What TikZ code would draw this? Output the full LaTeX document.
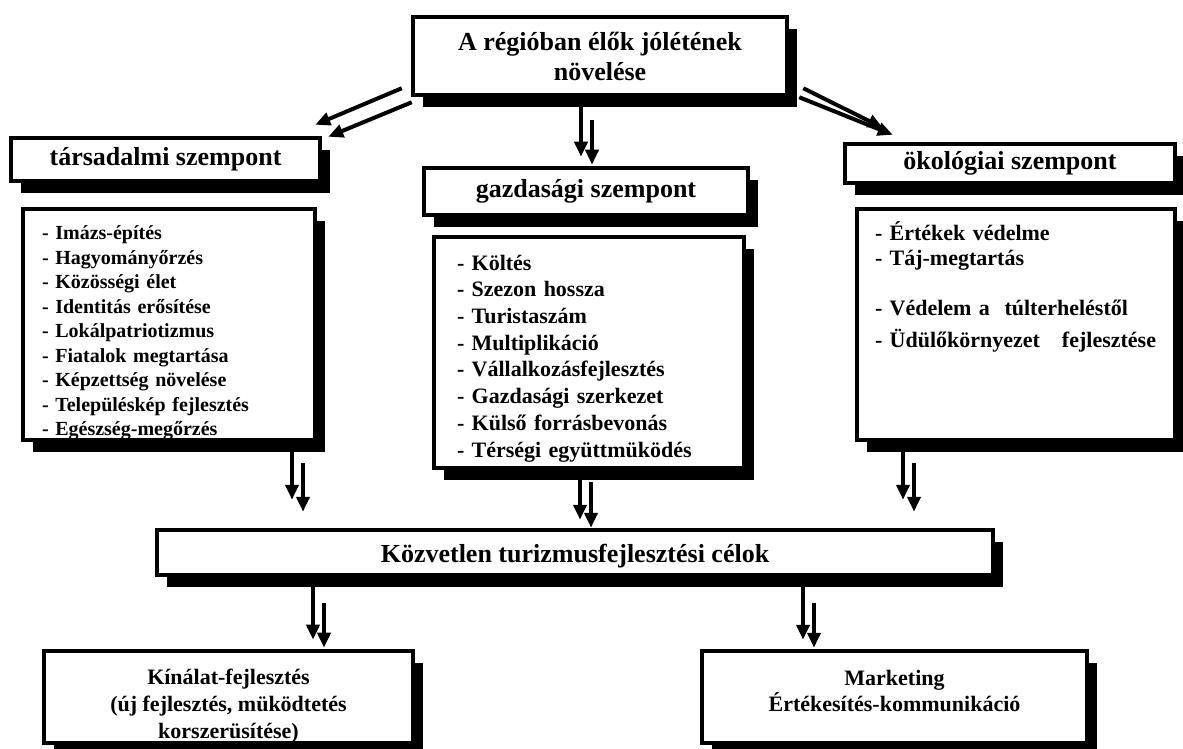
\documentclass[tikz,border=0pt]{standalone}
\usepackage{fontspec}
\setmainfont{Liberation Serif}
\usetikzlibrary{arrows.meta,shadows}

\tikzset{
  box/.style={draw, line width=4.5pt, fill=white, inner sep=0pt, align=center,
    font=\bfseries\fontsize{26}{30}\selectfont,
    drop shadow={shadow xshift=10pt, shadow yshift=-12pt, fill=black, opacity=1}},
  listbox/.style={box, align=left},
  arr/.style={line width=4pt, -{Triangle[width=13pt,length=15pt]}}
}

\begin{document}
\begin{tikzpicture}[x=1pt,y=-1pt]
\useasboundingbox (0,0) rectangle (1183,749);

% headings
\node[box, minimum width=374pt, minimum height=78pt] (top) at (600,56) {A régióban élők jólétének\\növelése};
\node[box, minimum width=309pt, minimum height=43pt] (tars) at (165.5,159.5) {társadalmi szempont};
\node[box, minimum width=324pt, minimum height=47pt] (gaz) at (586,191.5) {gazdasági szempont};
\node[box, minimum width=330pt, minimum height=39pt] (oko) at (1010,163.5) {ökológiai szempont};

% lists
\node[listbox, font=\bfseries\fontsize{20}{24.5}\selectfont, text width=254pt, inner xsep=19pt,
      minimum width=292pt, minimum height=231pt] (lstT) at (169,324.5) {
  \rule{0pt}{31pt}- Imázs-építés\\- Hagyományőrzés\\- Közösségi élet\\- Identitás erősítése\\- Lokálpatriotizmus\\
  - Fiatalok megtartása\\- Képzettség növelése\\- Településkép fejlesztés\\- Egészség-megőrzés};
\node[listbox, font=\bfseries\fontsize{22}{26.7}\selectfont, text width=264pt, inner xsep=23pt,
      minimum width=310pt, minimum height=231pt] (lstG) at (589,352.5) {
  \rule{0pt}{27pt}- Költés\\- Szezon hossza\\- Turistaszám\\- Multiplikáció\\- Vállalkozásfejlesztés\\
  - Gazdasági szerkezet\\- Külső forrásbevonás\\- Térségi együttmüködés};
\node[listbox, font=\bfseries\fontsize{22}{25}\selectfont, text width=282pt, inner xsep=18pt,
      minimum width=318pt, minimum height=231pt] (lstO) at (1016,324.5) {
  - Értékek védelme\\- Táj-megtartás\\[25pt]- Védelem a~~túlterheléstől\\[7pt]
  - Üdülőkörnyezet~~~fejlesztése\rule[-80pt]{0pt}{0pt}};

% goals
\node[box, minimum width=836pt, minimum height=45pt] (kozv) at (575,552.5) {\rule{0pt}{25pt}Közvetlen turizmusfejlesztési célok};
\node[box, font=\bfseries\fontsize{22}{26.7}\selectfont, minimum width=369pt, minimum height=92pt] (kin) at (228.5,697)
  {\rule{0pt}{34pt}Kínálat-fejlesztés\\(új fejlesztés, müködtetés\\korszerüsítése)};
\node[box, font=\bfseries\fontsize{22}{26.7}\selectfont, minimum width=385pt, minimum height=92pt] (mkt) at (894.5,697)
  {Marketing\\Értékesítés-kommunikáció\rule[-12pt]{0pt}{0pt}};

% double arrows
\draw[arr] ([shift={(-9,-9)}]top.south west) -- ([shift={(-7,-11)}]tars.north east);
\draw[arr] ([shift={(1,5)}]top.south west) -- ([shift={(6,1)}]tars.north east);
\draw[arr] ([shift={(14,-9)}]top.south east) -- ([shift={(40,-14)}]oko.north west);
\draw[arr] ([shift={(10,0)}]top.south east) -- ([shift={(50,-7)}]oko.north west);
\foreach \src/\dst/\x/\ea/\sb/\eb in {top/gaz/581/9/23/1, lstT/kozv/292/28/21/16, lstG/kozv/580/8/12/0,
    lstO/kozv/903/28/21/16, kozv/kin/313/9/26/1, kozv/mkt/803/9/26/1} {
  \draw[arr, shorten >=\ea pt] (\src.south -| \x,0) -- (\dst.north -| \x,0);
  \draw[arr, shorten <=\sb pt, shorten >=\eb pt] (\src.south -| \x+11,0) -- (\dst.north -| \x+11,0);
}
\end{tikzpicture}
\end{document}
